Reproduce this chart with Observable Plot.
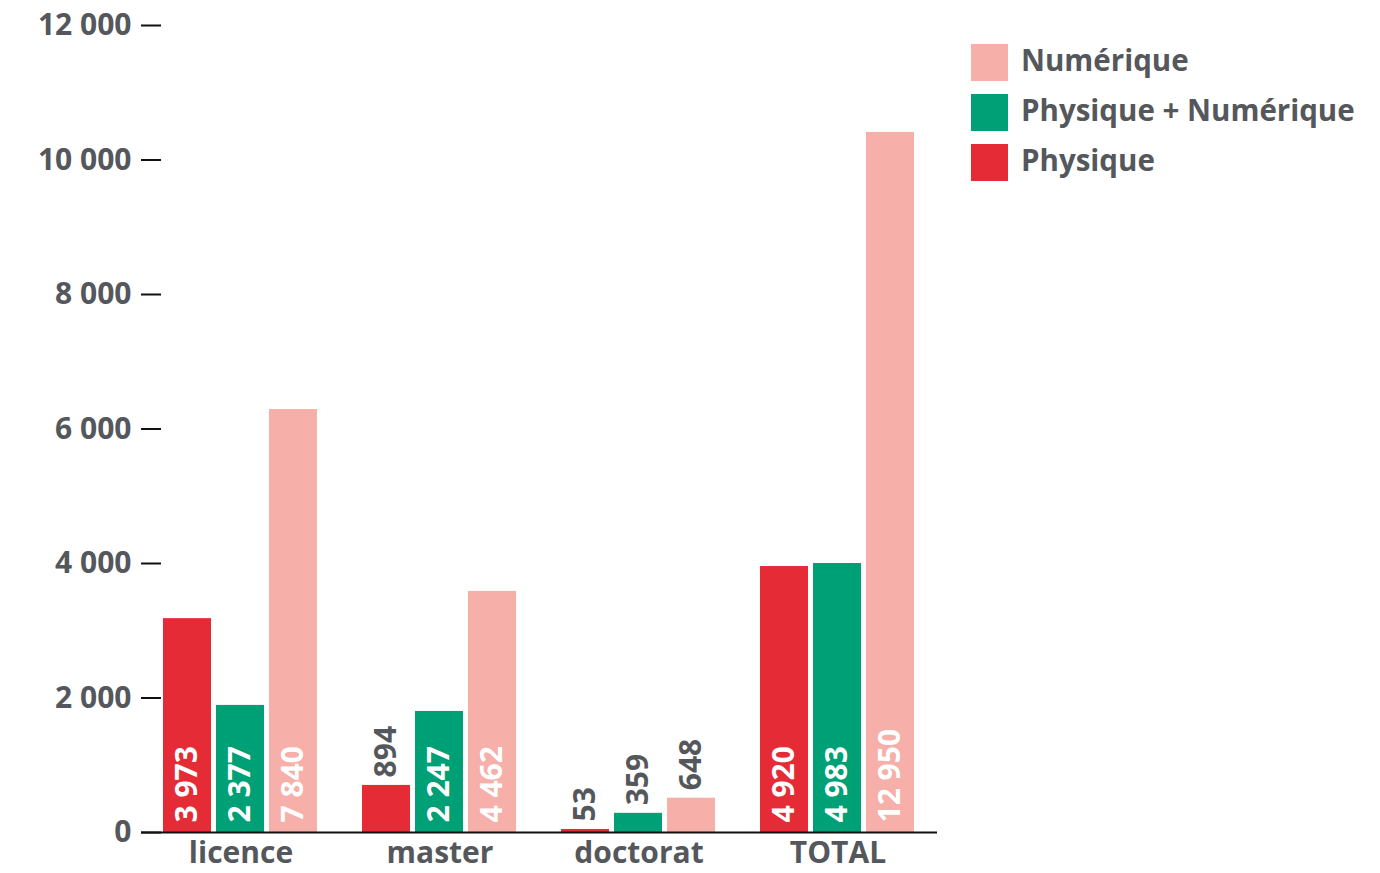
<!DOCTYPE html>
<html><head><meta charset="utf-8">
<script src="https://cdn.jsdelivr.net/npm/d3@7"></script>
<script src="https://cdn.jsdelivr.net/npm/@observablehq/plot@0.6"></script>
<style>
body{margin:0;background:#fff;font-family:"Open Sans", sans-serif;}
#wrap{position:relative;width:1380px;height:873px;overflow:hidden;}
#chart{position:absolute;left:0;top:0;}
#legend{position:absolute;left:971px;top:44px;}
.item{display:flex;align-items:center;height:37px;margin-bottom:13px;font-weight:700;font-size:29.5px;color:#54575b;white-space:nowrap;}
.item span{position:relative;top:-3px;}
.sw{width:37px;height:37px;margin-right:13px;flex:none;}
svg text{font-family:"Open Sans", sans-serif;font-weight:700;}
</style></head><body>
<div id="wrap"><div id="chart"></div><div id="legend"></div></div>
<script>
// Categories and series
const categories = ["licence", "master", "doctorat", "TOTAL"];
const series = ["Physique", "Physique + Numérique", "Numérique"];
// Bar heights as drawn against the axis
const physique = [3180, 700, 45, 3955];
const physiqueNumerique = [1890, 1800, 285, 4000];
const numerique = [6290, 3585, 510, 10410];
// Printed labels
const labelsPhysique = [3973, 894, 53, 4920];
const labelsPhysiqueNumerique = [2377, 2247, 359, 4983];
const labelsNumerique = [7840, 4462, 648, 12950];
// Axis ticks
const yTicks = [0, 2000, 4000, 6000, 8000, 10000, 12000];
const colors = ["#e52b36", "#00a077", "#f6afa9"];
const legendOrder = ["Numérique", "Physique + Numérique", "Physique"];

const valueSets = [physique, physiqueNumerique, numerique];
const labelSets = [labelsPhysique, labelsPhysiqueNumerique, labelsNumerique];
const rows = [];
categories.forEach((c, i) => series.forEach((s, j) => rows.push({category: c, series: s, value: valueSets[j][i], label: labelSets[j][i]})));

const loc = d3.formatLocale({thousands: " ", grouping: [3], decimal: ",", currency: ["", ""]});
const fmt = loc.format(",");
const gray = "#54575b";
const isInside = d => d.value > 1000;
const fs = 30;

const chart = Plot.plot({
  width: 962, height: 873,
  marginLeft: 140, marginRight: 25, marginTop: 25, marginBottom: 41,
  style: {fontFamily: "'Open Sans', sans-serif", fontWeight: 700, background: "transparent", color: gray, overflow: "visible"},
  fx: {domain: categories, padding: 0, label: null, axis: null},
  x: {domain: series, paddingInner: 0.094, paddingOuter: 0.422, axis: null},
  y: {domain: [0, 12000], axis: null},
  color: {domain: series, range: colors},
  marks: [
    Plot.barY(rows, {fx: "category", x: "series", y: "value", fill: "series"}),
    Plot.ruleY([0], {stroke: "#111", strokeWidth: 2}),
    Plot.axisY(yTicks, {tickSize: 0, tickPadding: 10, tickFormat: fmt, fill: gray, fontSize: fs, label: null}),
    Plot.axisY(yTicks, {tickSize: 20, dx: 20, stroke: "#111", strokeWidth: 2, fill: "none", label: null}),
    Plot.axisFx({anchor: "bottom", tickSize: 0, tickPadding: 9, label: null, fontSize: fs, fill: gray}),
    Plot.text(rows.filter(isInside), {fx: "category", x: "series", y: () => 0, text: d => fmt(d.label), rotate: -90, textAnchor: "start", dy: -10, fill: "white", fontSize: fs, fontWeight: 700}),
    Plot.text(rows.filter(d => !isInside(d)), {fx: "category", x: "series", y: "value", text: d => fmt(d.label), rotate: -90, textAnchor: "start", dy: -8, fill: gray, fontSize: fs, fontWeight: 700})
  ]
});
document.getElementById("chart").appendChild(chart);

const legend = document.getElementById("legend");
legendOrder.forEach(s => {
  const it = document.createElement("div");
  it.className = "item";
  const sw = document.createElement("div");
  sw.className = "sw";
  sw.style.background = colors[series.indexOf(s)];
  it.appendChild(sw);
  const t = document.createElement("span");
  t.textContent = s;
  it.appendChild(t);
  legend.appendChild(it);
});
</script>
</body></html>
